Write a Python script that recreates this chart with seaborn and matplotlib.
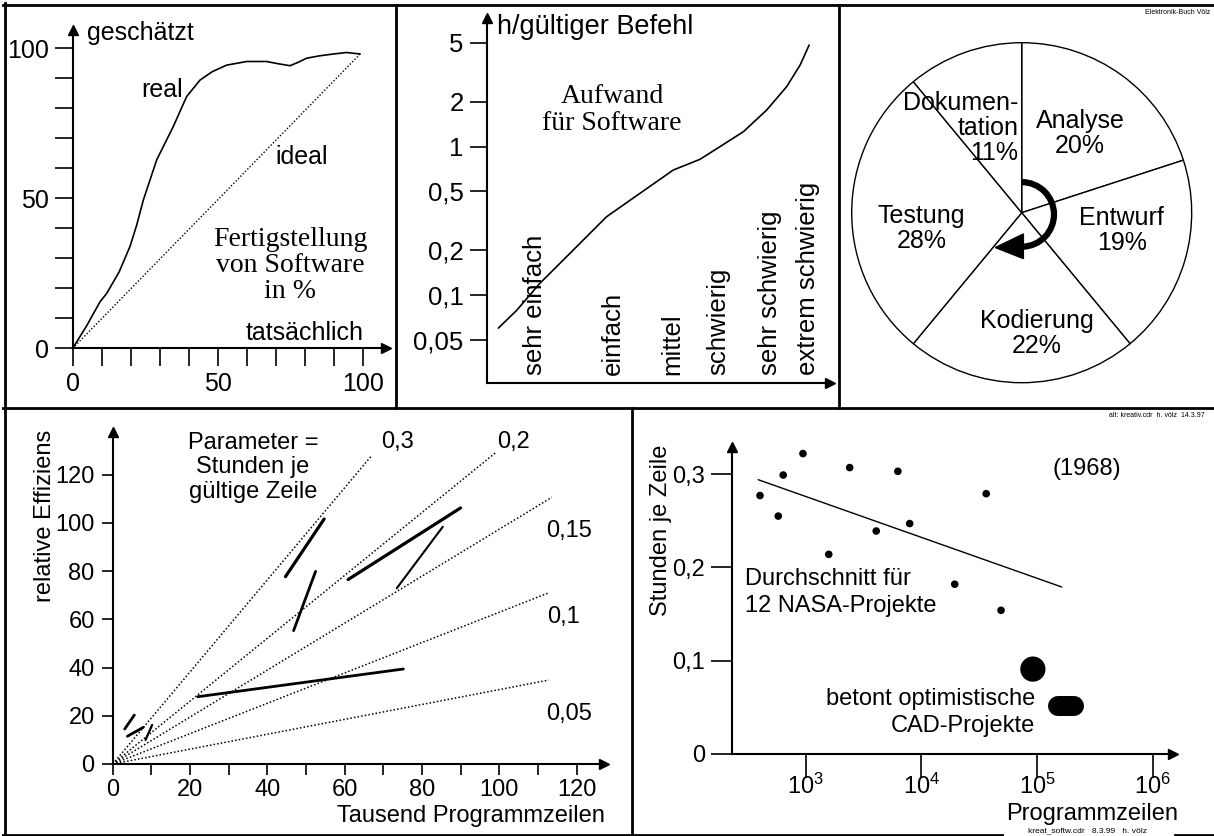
import numpy as np
import pandas as pd
import matplotlib
matplotlib.use("Agg")
import matplotlib.pyplot as plt
import seaborn as sns
from matplotlib.lines import Line2D
from matplotlib.patches import Arc, Polygon
from matplotlib.ticker import NullLocator

# ---------------- data ----------------
# panel 1: Fertigstellung von Software
p1_real_x = [0, 4.8, 9.4, 11.7, 16.0, 19.7, 22.0, 24.3, 28.9, 34.6, 39.2, 43.8, 48.0, 53.0, 59.9, 66.7, 71.0, 74.8, 77.5, 80.5, 85.0, 89.7, 94.3, 98.9]
p1_real_y = [0, 7.5, 15.5, 18.3, 25.5, 33.9, 41.0, 49.4, 62.8, 73.9, 83.9, 89.4, 92.2, 94.4, 95.6, 95.6, 94.8, 94.2, 95.3, 96.7, 97.5, 98.1, 98.6, 98.1]
p1_ideal_x = [0, 98.9]
p1_ideal_y = [0, 98.1]
p1_ticks = list(range(0, 101, 10))
p1_ticklabels = ['0', '', '', '', '', '50', '', '', '', '', '100']

# panel 2: Aufwand fuer Software
p2_curve_x = [3.2, 8.5, 15.2, 23.9, 34.5, 44.2, 53.8, 61.5, 67.3, 74.1, 80.8, 86.6, 90.5, 93.1]
p2_curve_y = [0.060, 0.079, 0.120, 0.191, 0.337, 0.485, 0.695, 0.82, 0.998, 1.26, 1.76, 2.53, 3.54, 4.82]
p2_categories = ['sehr einfach', 'einfach', 'mittel', 'schwierig', 'sehr schwierig', 'extrem schwierig']
p2_cat_x = [13.8, 36.4, 53.4, 66.7, 81.8, 92.8]
p2_yticks = [0.05, 0.1, 0.2, 0.5, 1, 2, 5]
p2_yticklabels = ['0,05', '0,1', '0,2', '0,5', '1', '2', '5']

# panel 3: pie
pie_labels = ['Analyse', 'Entwurf', 'Kodierung', 'Testung', 'Dokumen-\ntation']
pie_vals = [20, 19, 22, 28, 11]

# panel 4: relative Effizienz
p4_ray_params = ['0,3', '0,2', '0,15', '0,1', '0,05']
p4_ray_x = [67.0, 99.2, 113.6, 112.5, 112.8]
p4_ray_y = [127.9, 129.3, 110.6, 70.8, 34.8]
p4_seg_x0 = [44.7, 46.8, 60.9, 73.5, 22.0, 3.1, 3.8, 8.5]
p4_seg_y0 = [77.7, 55.3, 76.5, 72.9, 27.9, 14.5, 11.5, 10.0]
p4_seg_x1 = [54.7, 52.5, 90.0, 85.4, 75.2, 5.6, 7.9, 10.2]
p4_seg_y1 = [101.6, 79.9, 106.2, 98.4, 39.4, 20.3, 15.2, 16.2]
p4_xticks = list(range(0, 121, 10))
p4_xticklabels = ['0', '', '20', '', '40', '', '60', '', '80', '', '100', '', '120']
p4_yticks = list(range(0, 121, 20))

# panel 5: Stunden je Zeile (NASA 1968)
nasa_x = [404, 581, 641, 949, 1585, 2404, 4074, 6266, 7925, 19410, 36300, 48750]
nasa_y = [0.277, 0.255, 0.299, 0.322, 0.214, 0.307, 0.239, 0.303, 0.247, 0.182, 0.279, 0.154]
trend_x = [390, 163000]
trend_y = [0.294, 0.179]
cad_circle_x = [91800]
cad_circle_y = [0.091]
cad_bar_x = [151000, 208000]
cad_bar_y = [0.0518, 0.0518]
p5_xticks = [1e3, 1e4, 1e5, 1e6]
p5_xticklabels = ['$10^{3}$', '$10^{4}$', '$10^{5}$', '$10^{6}$']
p5_yticks = [0, 0.1, 0.2, 0.3]
p5_yticklabels = ['0', '0,1', '0,2', '0,3']

# ---------------- style ----------------
sns.set_style("ticks")
plt.rcParams.update({
    'font.family': ['Liberation Sans', 'DejaVu Sans'],
    'axes.edgecolor': 'black',
    'axes.linewidth': 1.5,
    'xtick.color': 'black',
    'ytick.color': 'black',
    'text.color': 'black',
    'axes.labelcolor': 'black',
    'mathtext.fontset': 'custom',
    'mathtext.rm': 'Liberation Sans',
    'mathtext.it': 'Liberation Sans:italic',
})

W, H = 1214, 836
fig = plt.figure(figsize=(W / 100, H / 100), dpi=100)
fig.patch.set_facecolor('white')


def ax_px(x0, x1, ytop, ybot):
    return fig.add_axes([x0 / W, 1 - ybot / H, (x1 - x0) / W, (ybot - ytop) / H])


def setup(ax, ms=7):
    ax.set_facecolor('none')
    for s in ['top', 'right']:
        ax.spines[s].set_visible(False)
    ax.plot(1, 0, '>', color='k', ms=ms, transform=ax.transAxes, clip_on=False)
    ax.plot(0, 1, '^', color='k', ms=ms, transform=ax.transAxes, clip_on=False)


def fline(xs, ys, lw=2.0):
    fig.add_artist(Line2D([x / W for x in xs], [1 - y / H for y in ys], color='k',
                          lw=lw, transform=fig.transFigure, solid_capstyle='projecting'))


dotted = (0, (1, 1.4))

# ---------------- panel 1 ----------------
ax1 = ax_px(72.7, 386, 30, 348.3)
setup(ax1)
sns.lineplot(x=p1_real_x, y=p1_real_y, ax=ax1, color='k', linewidth=1.2)
sns.lineplot(x=p1_ideal_x, y=p1_ideal_y, ax=ax1, color='k', linewidth=1.0, linestyle=dotted)
ax1.set_xlim(0, (386 - 72.7) / 2.906)
ax1.set_ylim(0, (348.3 - 30) / 3.0)
ax1.set_xticks(p1_ticks)
ax1.set_xticklabels(p1_ticklabels)
ax1.set_yticks(p1_ticks)
ax1.set_yticklabels(p1_ticklabels)
ax1.tick_params(axis='both', direction='out', length=13, width=1.2, labelsize=18, pad=4)
ax1.set_xlabel('')
ax1.set_ylabel('')
ax1.text(5.0, 105, 'geschätzt', ha='left', va='center', fontsize=18, clip_on=False)
ax1.text(30.6, 86.1, 'real', ha='center', va='center', fontsize=18)
ax1.text(78.8, 63.9, 'ideal', ha='center', va='center', fontsize=18)
ax1.text(74.8, 27.6, 'Fertigstellung\nvon Software\nin %', ha='center', va='center',
         fontsize=20, family=['Liberation Serif', 'DejaVu Serif'], linespacing=1.05)
ax1.text(79.9, 5.0, 'tatsächlich', ha='center', va='center', fontsize=18)

# ---------------- panel 2 ----------------
ax2 = ax_px(487.3, 830, 18, 383.3)
setup(ax2)
ax2.set_yscale('log')
sns.lineplot(x=p2_curve_x, y=p2_curve_y, ax=ax2, color='k', linewidth=1.2)
ax2.set_xlim(0, (830 - 487.3) / 3.457)
ax2.set_ylim(0.0255, 7.33)
ax2.set_yticks(p2_yticks)
ax2.set_yticklabels(p2_yticklabels)
ax2.yaxis.set_minor_locator(NullLocator())
ax2.set_xticks([])
ax2.tick_params(axis='y', direction='out', length=12, width=1.2, labelsize=18.5, pad=5)
ax2.set_xlabel('')
ax2.set_ylabel('')
for cx, cat in zip(p2_cat_x, p2_categories):
    ax2.text(cx, 0.0227, cat, rotation=90, ha='center', va='bottom', fontsize=18.5,
             transform=ax2.get_xaxis_transform())
ax2.text(0.028, 0.975, 'h/gültiger Befehl', ha='left', va='center', fontsize=19.5,
         transform=ax2.transAxes, clip_on=False)
ax2.text(0.364, 0.748, 'Aufwand\nfür Software', ha='center', va='center', fontsize=20,
         family=['Liberation Serif', 'DejaVu Serif'], linespacing=1.1, transform=ax2.transAxes)

# ---------------- panel 3 (pie) ----------------
cx, cy, R = 1021.7, 212.7, 170
axp = ax_px(cx - R * 1.02, cx + R * 1.02, cy - R * 1.02, cy + R * 1.02)
axp.pie(pie_vals, startangle=90, counterclock=False, radius=1,
        colors=['white'] * len(pie_vals),
        wedgeprops=dict(edgecolor='black', linewidth=1.0))
axp.set_xlim(-1.02, 1.02)
axp.set_ylim(-1.02, 1.02)
axp.set_aspect('equal')
axp.axis('off')
lab_pos = [(0.343, 0.467, 'center'), (0.588, -0.102, 'center'), (0.088, -0.709, 'center'),
           (-0.588, -0.092, 'center'), (-0.02, 0.50, 'right')]
for (lx, ly, ha), lab, v in zip(lab_pos, pie_labels, pie_vals):
    axp.text(lx, ly, f'{lab}\n{v}%', ha=ha, va='center', fontsize=18, linespacing=1.05,
             multialignment=ha)
axp.add_patch(Arc((0, -0.01), 0.38, 0.38, theta1=-88, theta2=90, lw=4.5, color='k'))
axp.add_patch(Polygon([(0.01, -0.125), (0.01, -0.27), (-0.155, -0.205)], closed=True,
                      facecolor='k', edgecolor='k'))

# ---------------- panel 4 ----------------
ax4 = ax_px(112.7, 604, 432, 764)
setup(ax4)
for ex, ey in zip(p4_ray_x, p4_ray_y):
    sns.lineplot(x=[0, ex], y=[0, ey], ax=ax4, color='k', linewidth=1.1, linestyle=dotted)
seg_lw = [2.3, 2.0, 2.3, 1.5, 2.0, 2.0, 2.0, 1.6]
for x0, y0, x1, y1, lw in zip(p4_seg_x0, p4_seg_y0, p4_seg_x1, p4_seg_y1, seg_lw):
    sns.lineplot(x=[x0, x1], y=[y0, y1], ax=ax4, color='k', linewidth=lw)
ax4.set_xlim(0, (604 - 112.7) / 3.865)
ax4.set_ylim(0, (764 - 432) / 2.411)
ax4.set_xticks(p4_xticks)
ax4.set_xticklabels(p4_xticklabels)
ax4.set_yticks(p4_yticks)
ax4.set_yticklabels([str(t) for t in p4_yticks])
ax4.tick_params(axis='x', direction='out', length=8, width=1.2, labelsize=17, pad=3)
ax4.tick_params(axis='y', direction='out', length=8, width=1.2, labelsize=17, pad=5)
ax4.set_xlabel('')
ax4.set_ylabel('')
lab4 = [(73.7, 133.4), (103.8, 133.4), (118.2, 96.8), (116.6, 60.8), (118.2, 20.7)]
for (lx, ly), p in zip(lab4, p4_ray_params):
    ax4.text(lx, ly, p, ha='center', va='center', fontsize=17, clip_on=False)
ax4.text(36.3, 123, 'Parameter =\nStunden je\ngültige Zeile', ha='center', va='center',
         fontsize=17, linespacing=1.17)
ax4.text(-17.4, 103, 'relative Effiziens', rotation=90, ha='center', va='center', fontsize=17,
         clip_on=False)
ax4.text(127.4, -21.5, 'Tausend Programmzeilen', ha='right', va='center', fontsize=17, clip_on=False)

# ---------------- panel 5 ----------------
ax5 = ax_px(731.7, 1173, 447, 754)
setup(ax5)
ax5.set_xscale('log')
sns.lineplot(x=trend_x, y=trend_y, ax=ax5, color='k', linewidth=1.0)
sns.scatterplot(x=nasa_x, y=nasa_y, ax=ax5, color='k', s=30, edgecolor='none')
sns.scatterplot(x=cad_circle_x, y=cad_circle_y, ax=ax5, color='k', s=330, edgecolor='none')
sns.lineplot(x=cad_bar_x, y=cad_bar_y, ax=ax5, color='k', linewidth=14.4, solid_capstyle='round')
ax5.set_xlim(10 ** 2.362, 10 ** 6.173)
ax5.set_ylim(0, (754 - 447) / 933.0)
ax5.set_xticks(p5_xticks)
ax5.set_xticklabels(p5_xticklabels)
ax5.xaxis.set_minor_locator(NullLocator())
ax5.set_yticks(p5_yticks)
ax5.set_yticklabels(p5_yticklabels)
ax5.tick_params(axis='x', direction='out', length=17, width=1.2, labelsize=17, pad=-3)
ax5.tick_params(axis='y', direction='out', length=15, width=1.2, labelsize=17, pad=4)
ax5.set_xlabel('')
ax5.set_ylabel('')
ax5.text(267000, 0.305, '(1968)', ha='center', va='center', fontsize=17)
ax5.text(299, 0.1875, 'Durchschnitt für', ha='left', va='center', fontsize=17)
ax5.text(299, 0.159, '12 NASA-Projekte', ha='left', va='center', fontsize=17)
ax5.text(96400, 0.059, 'betont optimistische', ha='right', va='center', fontsize=17)
ax5.text(96400, 0.030, 'CAD-Projekte', ha='right', va='center', fontsize=17)
ax5.text(56.8, 0.240, 'Stunden je Zeile', rotation=90, ha='center', va='center', fontsize=17,
         clip_on=False)
ax5.text(10 ** 6.213, -0.0645, 'Programmzeilen', ha='right', va='center', fontsize=17, clip_on=False)

# ---------------- frame lines and small notes ----------------
fline([3, 1214], [4.5, 4.5])
fline([5, 5], [3, 835])
fline([3, 1002], [834.5, 834.5])
fline([1175, 1214], [834.5, 834.5])
fline([3, 1214], [407.5, 407.5])
fline([395.5, 395.5], [4.5, 407.5])
fline([838.5, 838.5], [4.5, 407.5])
fline([631.7, 631.7], [407.5, 834.5])

fig.text(1210 / W, 1 - 12 / H, 'Elektronik-Buch Völz', ha='right', va='center', fontsize=5)
fig.text(1205 / W, 1 - 416 / H, 'alt: kreativ.cdr  h. völz  14.3.97', ha='right', va='center', fontsize=5)
fig.text(1088 / W, 1 - 831 / H, 'kreat_softw.cdr   8.3.99   h. völz', ha='center', va='center', fontsize=6)

fig.savefig('out.png', dpi=100, facecolor='white')
